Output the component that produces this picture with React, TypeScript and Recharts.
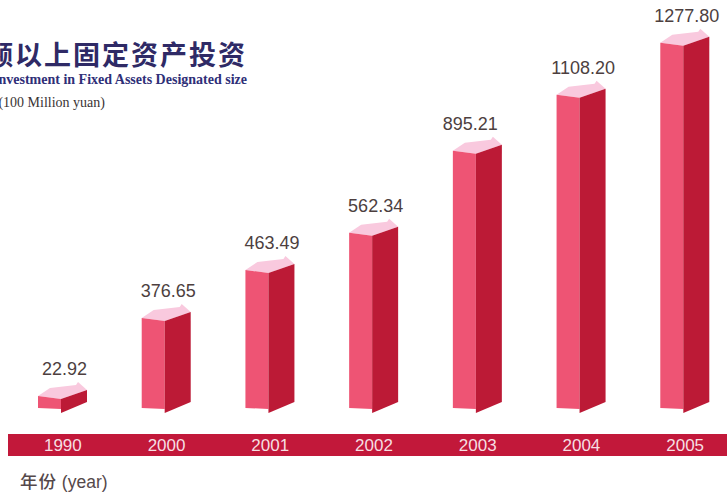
import { Bar, BarChart, LabelList, XAxis, YAxis } from 'recharts'

const years = ['1990', '2000', '2001', '2002', '2003', '2004', '2005']
const printedValues = ['22.92', '376.65', '463.49', '562.34', '895.21', '1108.20', '1277.80']
// the printed bars are not to scale with their labels, so these are the heights as read off the picture
const barLevels = [42, 315, 483, 613, 900, 1096, 1278]

const data = years.map((year, i) => ({ year, level: barLevels[i], label: printedValues[i] }))

const FRONT_W = 23
const FRONT_COLOR = '#ee5474'
const SIDE_COLOR = '#bc1a36'
const TOP_COLOR = '#f9c9de'

function Box3D(props: any) {
  const { x, y, height } = props
  const xm = x + FRONT_W
  const xr = x + props.width
  const bottom = y + height
  return (
    <g>
      <polygon
        points={`${x},${y} ${x + 12},${y - 8} ${xr - 11},${y - 11} ${xr - 9},${y - 14} ${xr},${y - 6} ${xm},${y + 3}`}
        fill={TOP_COLOR}
      />
      <polygon points={`${x},${y} ${xm},${y + 3} ${xm},${bottom + 1} ${x},${bottom}`} fill={FRONT_COLOR} />
      <polygon points={`${xm},${y + 3} ${xr},${y - 6} ${xr},${bottom - 6} ${xm},${bottom + 5}`} fill={SIDE_COLOR} />
    </g>
  )
}

function ValueLabel(props: any) {
  const { x, y, width, value } = props
  // the 2003 label sits left of its bar in the original
  const dx = value === '895.21' ? -7 : 2
  return (
    <text x={x + width / 2 + dx} y={y - 27} textAnchor='middle' dominantBaseline='central' fontSize={18} fill='#4d3f3f'>
      {value}
    </text>
  )
}

export default function App() {
  return (
    <div
      style={{
        position: 'fixed',
        left: 0,
        top: 0,
        width: 727,
        height: 496,
        overflow: 'hidden',
        background: '#fff',
        fontFamily: '"Liberation Sans", Arial, sans-serif',
      }}
    >
      <div style={{ position: 'absolute', left: 8, top: 434, width: 719, height: 22, background: '#c2183a' }} />

      <div
        style={{
          position: 'absolute',
          right: 480,
          top: 35,
          whiteSpace: 'nowrap',
          fontFamily: '"Noto Sans CJK SC"',
          fontWeight: 700,
          fontSize: 27,
          letterSpacing: 2,
          lineHeight: '38px',
          color: '#2f2a66',
        }}
      >
        限额以上固定资产投资
      </div>
      <div
        style={{
          position: 'absolute',
          right: 480,
          top: 72,
          whiteSpace: 'nowrap',
          fontFamily: '"Liberation Serif"',
          fontWeight: 700,
          fontSize: 14,
          lineHeight: '16px',
          color: '#2f2f78',
        }}
      >
        Investment in Fixed Assets Designated size
      </div>
      <div
        style={{
          position: 'absolute',
          right: 622,
          top: 95,
          whiteSpace: 'nowrap',
          fontFamily: '"Liberation Serif"',
          fontSize: 14,
          lineHeight: '16px',
          color: '#3a3434',
        }}
      >
        (100 Million yuan)
      </div>
      <div
        style={{
          position: 'absolute',
          left: 20,
          top: 470,
          whiteSpace: 'nowrap',
          fontSize: 17.5,
          lineHeight: '22px',
          color: '#55484a',
        }}
      >
        <span style={{ fontFamily: '"Noto Sans CJK SC"', fontWeight: 500, letterSpacing: 1 }}>年份</span> (year)
      </div>

      <BarChart
        width={740}
        height={496}
        data={data}
        margin={{ top: 8, right: 3, bottom: 58, left: 11 }}
        barCategoryGap={0}
        style={{ position: 'absolute', left: 0, top: 0 }}
      >
        <XAxis
          dataKey='year'
          axisLine={false}
          tickLine={false}
          interval={0}
          tickMargin={25}
          tick={{ fill: '#f6dfe2', fontSize: 17 }}
        />
        <YAxis hide domain={[0, 1400]} />
        <Bar dataKey='level' barSize={49} shape={<Box3D />} isAnimationActive={false}>
          <LabelList dataKey='label' content={<ValueLabel />} />
        </Bar>
      </BarChart>
    </div>
  )
}
